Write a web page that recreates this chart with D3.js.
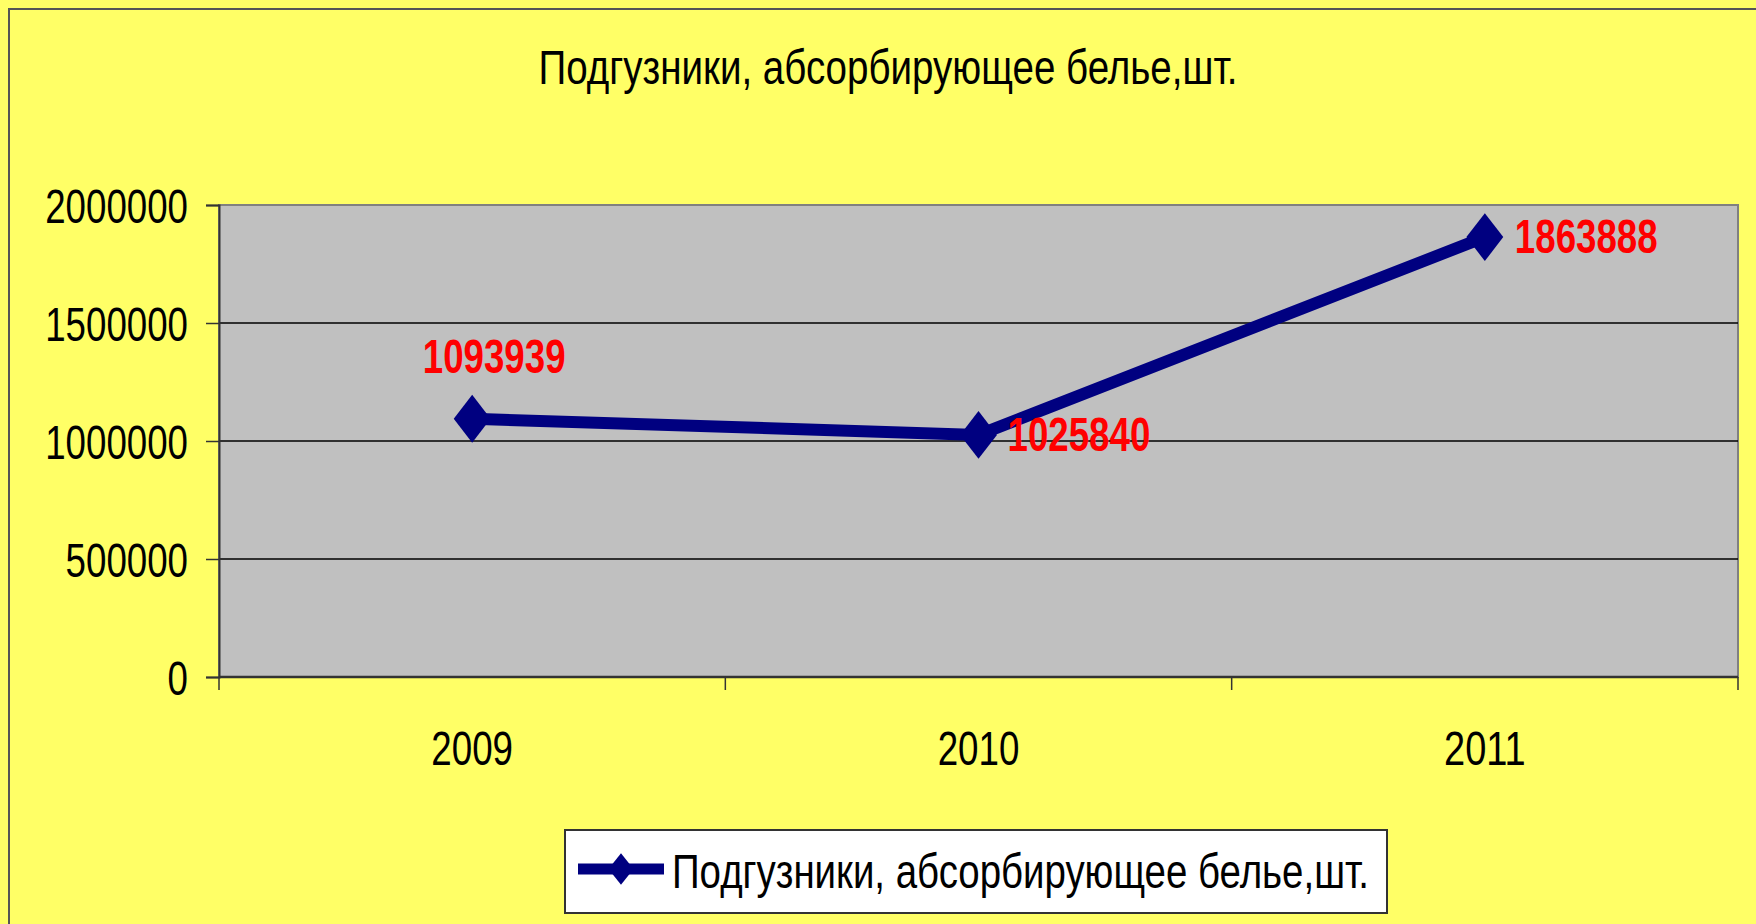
<!DOCTYPE html>
<html>
<head>
<meta charset="utf-8">
<script src="https://cdn.jsdelivr.net/npm/d3@7"></script>
<style>
  html, body { margin: 0; padding: 0; background: #ffff66; }
  svg { display: block; }
  text { font-family: "Liberation Sans", Arial, sans-serif; }
</style>
</head>
<body>
<div id="chart"></div>
<script>
// Chart data
var title = "Подгузники, абсорбирующее белье,шт.";
var seriesName = "Подгузники, абсорбирующее белье,шт.";
var years = ["2009", "2010", "2011"];
var values = [1093939, 1025840, 1863888];
var yTicks = [0, 500000, 1000000, 1500000, 2000000];

var W = 1756, H = 924;
var plot = { left: 219, top: 205, right: 1738, bottom: 677 };
var fontSize = 48;
var digitWidth = 20.4; // the original uses a narrow face, so squeeze glyphs

var svg = d3.select("#chart")
    .append("svg")
    .attr("width", W)
    .attr("height", H);

// Background and outer frame
svg.append("rect")
    .attr("x", 0).attr("y", 0)
    .attr("width", W).attr("height", H)
    .attr("fill", "#ffff66");

svg.append("rect")
    .attr("x", 9).attr("y", 9)
    .attr("width", W + 20).attr("height", H + 20)
    .attr("fill", "none")
    .attr("stroke", "#555555")
    .attr("stroke-width", 2);

// Scales
var xBand = d3.scaleBand()
    .domain(years)
    .range([plot.left, plot.right])
    .paddingInner(0).paddingOuter(0);

var y = d3.scaleLinear()
    .domain([0, 2000000])
    .range([plot.bottom, plot.top]);

// Plot area
svg.append("rect")
    .attr("x", plot.left).attr("y", plot.top)
    .attr("width", plot.right - plot.left)
    .attr("height", plot.bottom - plot.top)
    .attr("fill", "#c0c0c0")
    .attr("stroke", "#808080")
    .attr("stroke-width", 2);

// Gridlines
svg.append("g")
    .selectAll("line")
    .data(yTicks.filter(function (d) { return d > 0 && d < 2000000; }))
    .enter()
    .append("line")
    .attr("x1", plot.left).attr("x2", plot.right)
    .attr("y1", function (d) { return y(d); })
    .attr("y2", function (d) { return y(d); })
    .attr("stroke", "#000")
    .attr("stroke-width", 1.5);

// Y axis
var yAxis = svg.append("g")
    .attr("transform", "translate(" + plot.left + ",0)")
    .call(d3.axisLeft(y).tickValues(yTicks).tickFormat(d3.format("d")).tickSize(13).tickPadding(18));
yAxis.select(".domain").attr("stroke", "#333").attr("stroke-width", 2);
yAxis.selectAll(".tick line").attr("stroke", "#333").attr("stroke-width", 1.5);
yAxis.selectAll(".tick text")
    .attr("font-size", fontSize + "px")
    .attr("fill", "#000")
    .attr("font-family", null)
    .attr("dy", "0.37em")
    .attr("textLength", function (d) { return String(d).length * digitWidth; })
    .attr("lengthAdjust", "spacingAndGlyphs");

// X axis: labels at band centres, ticks at band edges
var xAxis = svg.append("g")
    .attr("transform", "translate(0," + plot.bottom + ")")
    .call(d3.axisBottom(xBand).tickSize(0).tickPadding(54));
xAxis.select(".domain").remove();
xAxis.selectAll(".tick text")
    .attr("font-size", fontSize + "px")
    .attr("fill", "#000")
    .attr("font-family", null)
    .attr("textLength", function (d) { return d.length * digitWidth; })
    .attr("lengthAdjust", "spacingAndGlyphs");

var edges = years.map(function (d) { return xBand(d); }).concat([plot.right]);
svg.append("g")
    .selectAll("line")
    .data(edges)
    .enter()
    .append("line")
    .attr("x1", function (d) { return d; })
    .attr("x2", function (d) { return d; })
    .attr("y1", plot.bottom)
    .attr("y2", plot.bottom + 13)
    .attr("stroke", "#333")
    .attr("stroke-width", 1.5);

svg.append("line")
    .attr("x1", plot.left).attr("x2", plot.right)
    .attr("y1", plot.bottom).attr("y2", plot.bottom)
    .attr("stroke", "#333")
    .attr("stroke-width", 2.5);

// Series line
var cx = function (i) { return xBand(years[i]) + xBand.bandwidth() / 2; };
var line = d3.line()
    .x(function (d, i) { return cx(i); })
    .y(function (d) { return y(d); });

svg.append("path")
    .datum(values)
    .attr("d", line)
    .attr("fill", "none")
    .attr("stroke", "#000080")
    .attr("stroke-width", 12);

var diamond = d3.symbol().type(d3.symbolSquare).size(680);
svg.append("g")
    .selectAll("path")
    .data(values)
    .enter()
    .append("path")
    .attr("d", diamond)
    .attr("transform", function (d, i) {
        return "translate(" + cx(i) + "," + y(d) + ") scale(1,1.3) rotate(45)";
    })
    .attr("fill", "#000080");

// Data labels
var labelOffsets = [
    { dx: 22, dy: -46, anchor: "middle" },
    { dx: 29, dy: 16, anchor: "start" },
    { dx: 30, dy: 16, anchor: "start" }
];
svg.append("g")
    .selectAll("text")
    .data(values)
    .enter()
    .append("text")
    .attr("x", function (d, i) { return cx(i) + labelOffsets[i].dx; })
    .attr("y", function (d, i) { return y(d) + labelOffsets[i].dy; })
    .attr("text-anchor", function (d, i) { return labelOffsets[i].anchor; })
    .attr("font-size", fontSize + "px")
    .attr("font-weight", "bold")
    .attr("fill", "#ff0000")
    .attr("textLength", function (d) { return String(d).length * digitWidth; })
    .attr("lengthAdjust", "spacingAndGlyphs")
    .text(function (d) { return d; });

// Title
svg.append("text")
    .attr("x", 888)
    .attr("y", 84)
    .attr("text-anchor", "middle")
    .attr("font-size", fontSize + "px")
    .attr("fill", "#000")
    .attr("textLength", 699)
    .attr("lengthAdjust", "spacingAndGlyphs")
    .text(title);

// Legend
var legend = svg.append("g");
legend.append("rect")
    .attr("x", 565).attr("y", 830)
    .attr("width", 822).attr("height", 83)
    .attr("fill", "#fff")
    .attr("stroke", "#333")
    .attr("stroke-width", 2);
legend.append("line")
    .attr("x1", 578).attr("x2", 664)
    .attr("y1", 869).attr("y2", 869)
    .attr("stroke", "#000080")
    .attr("stroke-width", 11);
legend.append("path")
    .attr("d", diamond)
    .attr("transform", "translate(621,869) scale(0.68,0.85) rotate(45)")
    .attr("fill", "#000080");
legend.append("text")
    .attr("x", 672)
    .attr("y", 888)
    .attr("font-size", fontSize + "px")
    .attr("fill", "#000")
    .attr("textLength", 697)
    .attr("lengthAdjust", "spacingAndGlyphs")
    .text(seriesName);
</script>
</body>
</html>
